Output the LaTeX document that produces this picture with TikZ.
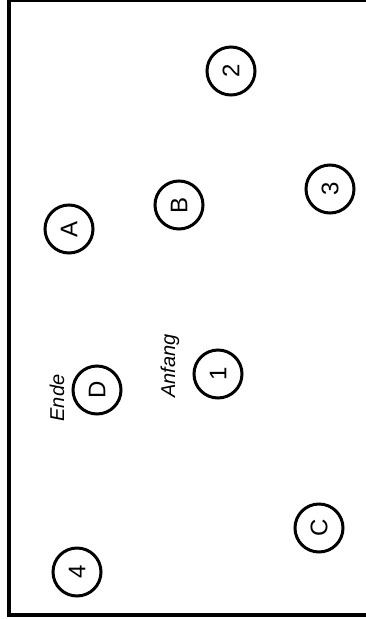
\documentclass[tikz,border=0pt]{standalone}
\usepackage{fontspec}
\setmainfont{Liberation Sans}
\begin{document}
\begin{tikzpicture}[x=1pt, y=-1pt,
  station/.style={circle, draw, line width=3pt, minimum size=48pt, inner sep=0pt,
    rotate=90, font=\fontsize{24}{24}\selectfont},
  tag/.style={rotate=90, inner sep=0pt, font=\fontsize{20}{20}\selectfont\itshape}]
  \useasboundingbox (0,0) rectangle (366,619);
  % frame
  \draw[line width=3.6pt] (9,0) rectangle (390,615);
  % stations
  \node[station] (s2) at (231,71) {2};
  \node[station] (sB) at (179,205) {B};
  \node[station] (s3) at (330,189) {3};
  \node[station] (sA) at (69,229) {A};
  \node[station] (s1) at (218,374) {1};
  \node[station] (sD) at (97,390) {D};
  \node[station] (sC) at (319,528) {C};
  \node[station] (s4) at (77,572) {4};
  % start and end
  \node[tag] (start) at (170,366) {Anfang};
  \node[tag] (finish) at (57,398) {Ende};
\end{tikzpicture}
\end{document}
